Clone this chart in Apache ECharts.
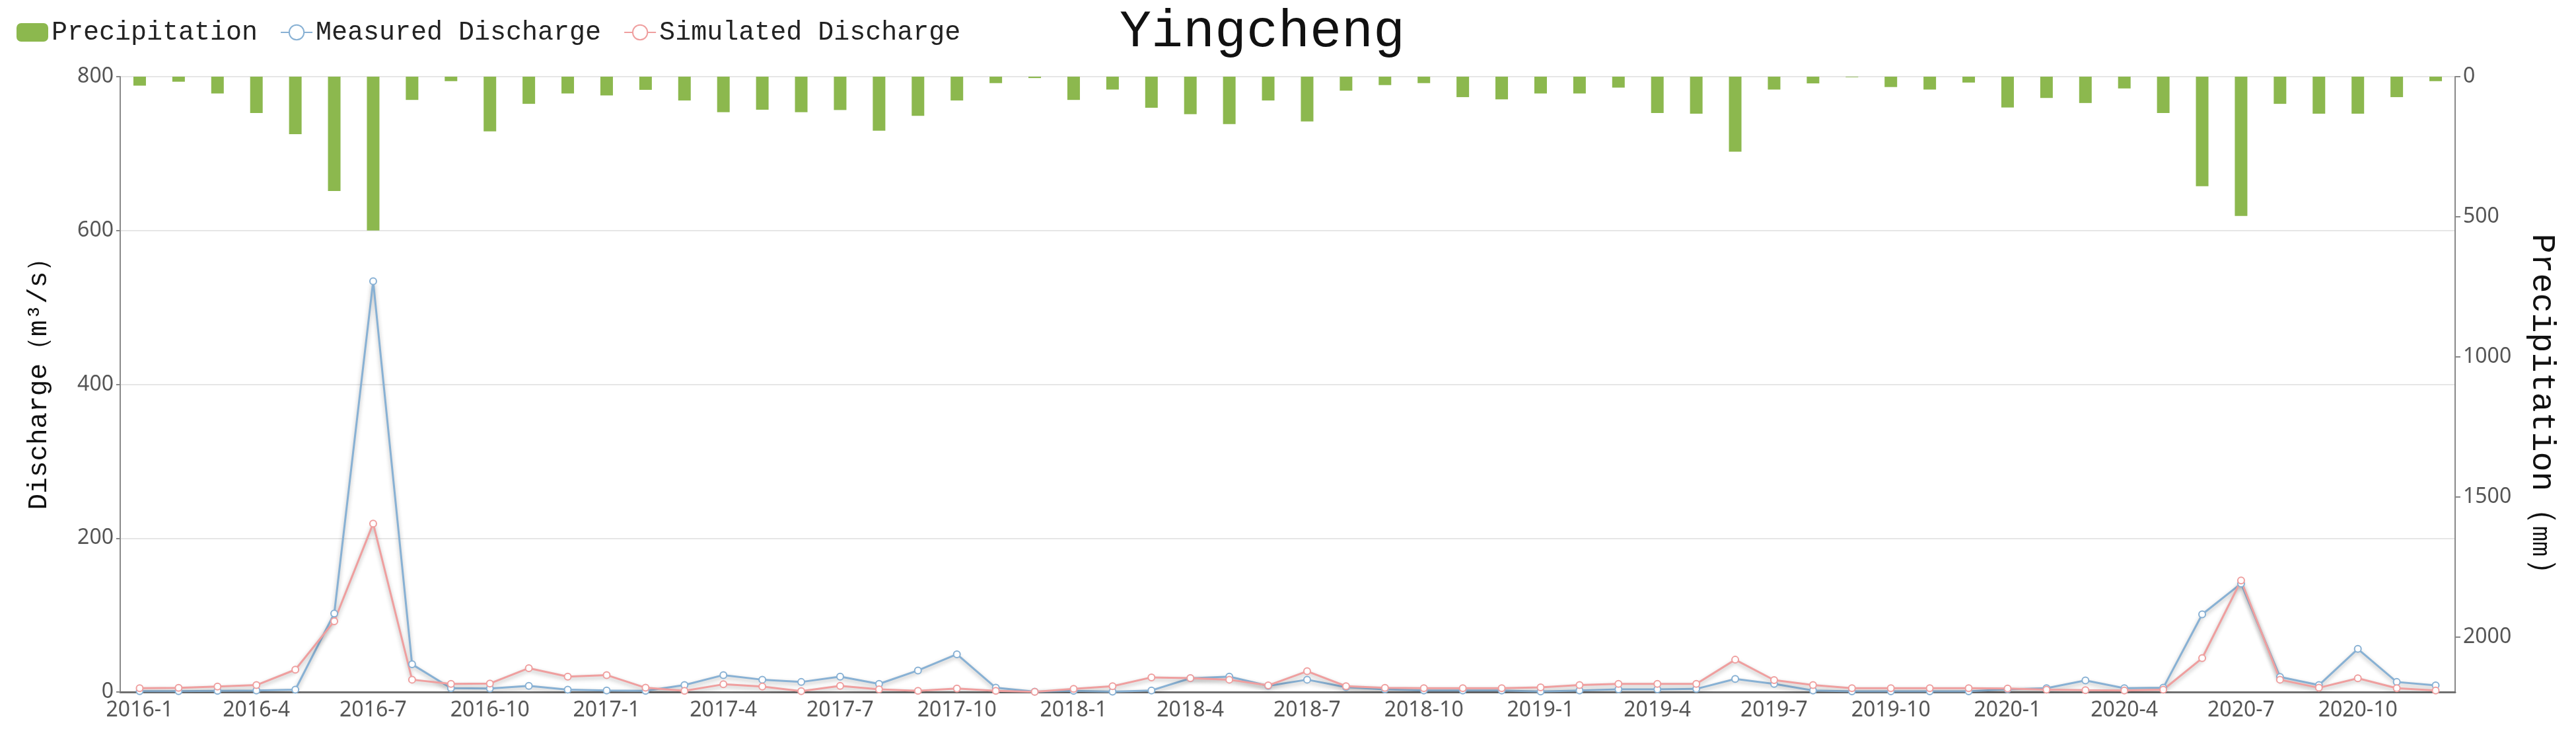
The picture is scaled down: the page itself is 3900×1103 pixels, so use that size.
<!DOCTYPE html>
<html>
<head>
<meta charset="utf-8">
<script src="https://cdn.jsdelivr.net/npm/echarts@6/dist/echarts.min.js"></script>
<style>
html,body{margin:0;padding:0;background:#fff;}
#chart{width:3900px;height:1103px;}
</style>
</head>
<body>
<div id="chart"></div>
<script>
// months 2016-1 .. 2020-12
const months = [];
for (let y = 2016; y <= 2020; y++) { for (let m = 1; m <= 12; m++) { months.push(y + '-' + m); } }

const precipitation = [
  32, 18, 60, 130, 205, 408, 549, 83, 16, 195, 97, 60,
  67, 47, 85, 127, 118, 127, 119, 193, 140, 85, 23, 5,
  83, 46, 111, 134, 169, 85, 160, 50, 30, 23, 73, 81,
  60, 60, 39, 130, 132, 268, 46, 24, 2, 37, 46, 21,
  110, 76, 94, 42, 130, 391, 497, 97, 132, 132, 73, 16
];

const measured = [
  1, 1, 1.5, 2, 3, 102, 534, 36, 5, 4.5, 8, 3,
  2, 1.5, 9, 22, 16, 13, 20, 10.5, 28, 49, 5.5, 0.5,
  1.5, 0.5, 2, 17.8, 20, 8, 16, 6.3, 3.4, 2, 2, 2,
  0.6, 2, 3.4, 3.4, 4, 17, 10.6, 2, 0.8, 0.8, 0.8, 0.8,
  3.4, 4.9, 15, 5, 5.5, 101, 141, 19.5, 9, 56, 13, 8.5
];

const simulated = [
  5, 5.4, 7, 9, 29, 92, 219, 16, 10.6, 11, 31, 20,
  22, 5.5, 1.5, 10, 7, 1, 8, 3.5, 1.5, 4.5, 1.5, 0.3,
  4, 7.5, 19, 18, 16, 8.5, 27, 7.5, 5.4, 5, 5, 5,
  6, 9, 10.6, 10.6, 10.6, 42, 15.5, 9, 5, 5, 5, 5,
  4.5, 3, 2.3, 2, 3, 44, 145, 16, 5.5, 17.8, 4.9, 2
];

const dischargeTicks = { min: 0, max: 800, interval: 200 };
const precipTicks = { min: 0, interval: 500 };

const chart = echarts.init(document.getElementById('chart'));
const labelFont = { fontFamily: 'Noto Sans', fontSize: 32, color: '#555' };
const serifMono = 'Liberation Mono';

chart.setOption({
  animation: false,
  backgroundColor: '#fff',
  title: {
    text: 'Yingcheng',
    left: 1690,
    top: 4,
    textStyle: { fontFamily: serifMono, fontSize: 80, fontWeight: 'normal', color: '#111' }
  },
  legend: {
    left: 20, top: 24,
    itemWidth: 48, itemHeight: 28, itemGap: 34,
    textStyle: { fontFamily: serifMono, fontSize: 40, color: '#222' },
    data: ['Precipitation', 'Measured Discharge', 'Simulated Discharge']
  },
  grid: { left: 182, right: 183, top: 116, bottom: 56, containLabel: false },
  xAxis: {
    type: 'category',
    data: months,
    boundaryGap: true,
    axisLine: { lineStyle: { color: '#6f6f6f', width: 3 } },
    axisTick: { interval: 2, length: 9, lineStyle: { color: '#555', width: 2 } },
    axisLabel: Object.assign({ interval: 2, margin: 12 }, labelFont)
  },
  yAxis: [
    {
      type: 'value',
      name: 'Discharge（m³/s）',
      nameLocation: 'middle',
      nameRotate: 90,
      nameGap: 102,
      nameTextStyle: { fontFamily: serifMono, fontSize: 41, color: '#111', padding: [0, 0, 0, 22] },
      min: dischargeTicks.min, max: dischargeTicks.max, interval: dischargeTicks.interval,
      axisLine: { show: true, lineStyle: { color: '#888', width: 2 } },
      axisTick: { show: true, length: 6, lineStyle: { color: '#888', width: 2 } },
      axisLabel: Object.assign({ margin: 10 }, labelFont),
      splitLine: { show: true, lineStyle: { color: '#e6e6e6', width: 2 } }
    },
    {
      type: 'value',
      name: 'Precipitation（㎜）',
      nameLocation: 'middle',
      nameRotate: -90,
      nameGap: 106,
      nameTextStyle: { fontFamily: serifMono, fontSize: 50, color: '#111', padding: [0, 0, 0, 84] },
      inverse: true,
      min: precipTicks.min,
      max: function (v) { return v.max * 4; },
      interval: precipTicks.interval,
      axisLine: { show: true, lineStyle: { color: '#888', width: 2 } },
      axisTick: { show: true, length: 8, lineStyle: { color: '#888', width: 2 } },
      axisLabel: Object.assign({ margin: 12, showMaxLabel: false, formatter: function (v) { return String(v); } }, labelFont),
      splitLine: { show: false }
    }
  ],
  series: [
    {
      name: 'Precipitation',
      type: 'bar',
      yAxisIndex: 1,
      data: precipitation,
      barWidth: 19,
      itemStyle: { color: '#8cb84e' }
    },
    {
      name: 'Measured Discharge',
      type: 'line',
      yAxisIndex: 0,
      data: measured,
      symbol: 'emptyCircle',
      symbolSize: 10,
      itemStyle: { color: '#88b1d4' },
      lineStyle: { width: 3, color: '#88b1d4', shadowColor: 'rgba(0,0,0,0.3)', shadowBlur: 6, shadowOffsetY: 3 }
    },
    {
      name: 'Simulated Discharge',
      type: 'line',
      yAxisIndex: 0,
      data: simulated,
      symbol: 'emptyCircle',
      symbolSize: 10,
      itemStyle: { color: '#ef9f9f' },
      lineStyle: { width: 3, color: '#ef9f9f', shadowColor: 'rgba(0,0,0,0.3)', shadowBlur: 6, shadowOffsetY: 3 }
    }
  ]
});
</script>
</body>
</html>
